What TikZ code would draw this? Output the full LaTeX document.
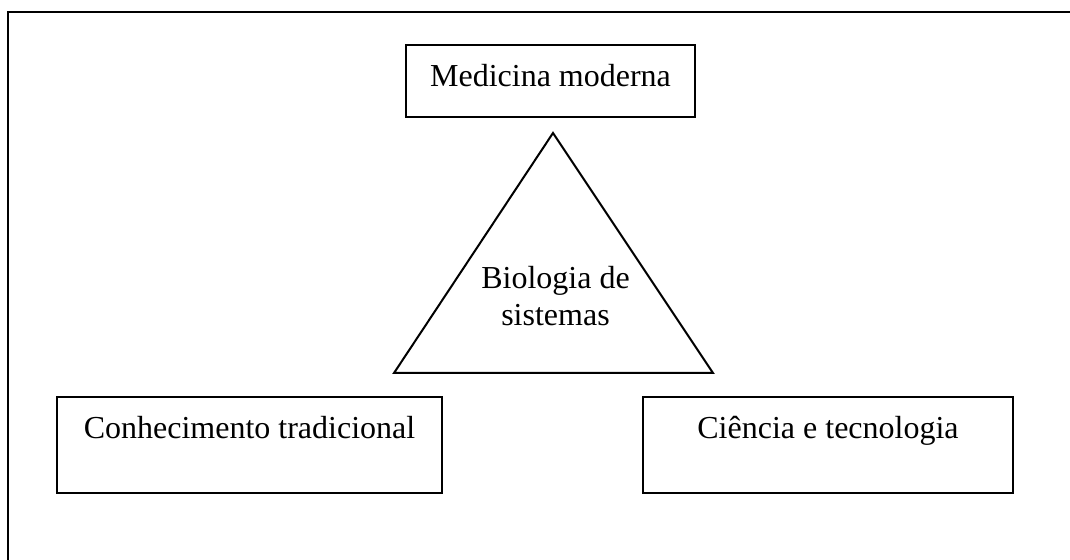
\documentclass[tikz,border=0pt]{standalone}
\usepackage{fontspec}
\setmainfont{Liberation Serif}
\begin{document}
\begin{tikzpicture}[x=0.5pt, y=-0.5pt, line width=1pt,
  caixa/.style={draw, inner sep=0pt, anchor=base, text height=21pt, font=\fontsize{16}{18.5}\selectfont},
  rotulo/.style={align=center, font=\fontsize{16}{18.5}\selectfont}]
\useasboundingbox (0,0) rectangle (1070,560);
\draw (8,560) -- (8,12) -- (1070,12);
\node[caixa, minimum width=144.5pt, text depth=15pt] (medicina) at (550.5,87) {Medicina moderna};
\node[caixa, minimum width=192.5pt, text depth=27pt] (conhecimento) at (249.5,439) {Conhecimento tradicional};
\node[caixa, minimum width=185pt, text depth=27pt] (ciencia) at (828,439) {Ciência e tecnologia};
\coordinate (topo) at (553,133);
\coordinate (esq) at (394,373);
\coordinate (dir) at (713,373);
\draw (topo) -- (esq) -- (dir) -- cycle;
\node[rotulo] (biologia) at (555.5,296) {Biologia de\\sistemas};
\end{tikzpicture}
\end{document}
